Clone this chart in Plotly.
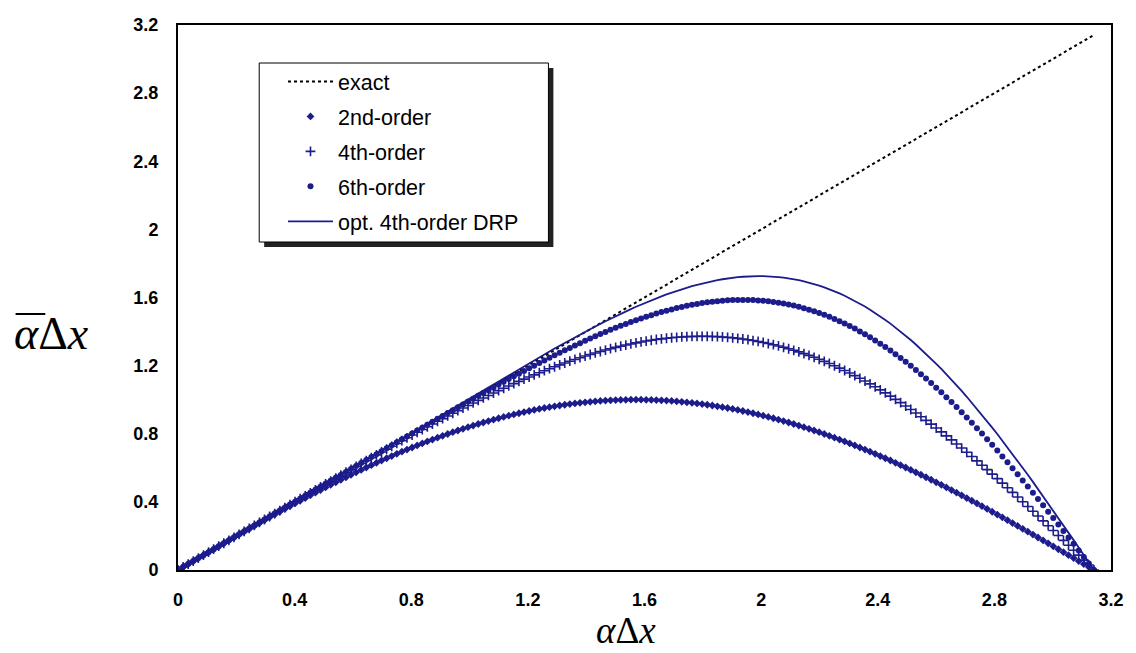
import plotly.graph_objects as go

# alpha*dx sample positions (radians), 1-degree steps
alpha_dx = [0, 0.0175, 0.0349, 0.0524, 0.0698, 0.0873, 0.1047, 0.1222, 0.1396, 0.1571,
            0.1745, 0.1920, 0.2094, 0.2269, 0.2443, 0.2618, 0.2793, 0.2967, 0.3142, 0.3316,
            0.3491, 0.3665, 0.3840, 0.4014, 0.4189, 0.4363, 0.4538, 0.4712, 0.4887, 0.5061,
            0.5236, 0.5411, 0.5585, 0.5760, 0.5934, 0.6109, 0.6283, 0.6458, 0.6632, 0.6807,
            0.6981, 0.7156, 0.7330, 0.7505, 0.7679, 0.7854, 0.8029, 0.8203, 0.8378, 0.8552,
            0.8727, 0.8901, 0.9076, 0.9250, 0.9425, 0.9599, 0.9774, 0.9948, 1.0123, 1.0297,
            1.0472, 1.0647, 1.0821, 1.0996, 1.1170, 1.1345, 1.1519, 1.1694, 1.1868, 1.2043,
            1.2217, 1.2392, 1.2566, 1.2741, 1.2915, 1.3090, 1.3265, 1.3439, 1.3614, 1.3788,
            1.3963, 1.4137, 1.4312, 1.4486, 1.4661, 1.4835, 1.5010, 1.5184, 1.5359, 1.5533,
            1.5708, 1.5882, 1.6057, 1.6232, 1.6406, 1.6581, 1.6755, 1.6930, 1.7104, 1.7279,
            1.7453, 1.7628, 1.7802, 1.7977, 1.8151, 1.8326, 1.8500, 1.8675, 1.8850, 1.9024,
            1.9199, 1.9373, 1.9548, 1.9722, 1.9897, 2.0071, 2.0246, 2.0420, 2.0595, 2.0769,
            2.0944, 2.1118, 2.1293, 2.1468, 2.1642, 2.1817, 2.1991, 2.2166, 2.2340, 2.2515,
            2.2689, 2.2864, 2.3038, 2.3213, 2.3387, 2.3562, 2.3736, 2.3911, 2.4086, 2.4260,
            2.4435, 2.4609, 2.4784, 2.4958, 2.5133, 2.5307, 2.5482, 2.5656, 2.5831, 2.6005,
            2.6180, 2.6354, 2.6529, 2.6704, 2.6878, 2.7053, 2.7227, 2.7402, 2.7576, 2.7751,
            2.7925, 2.8100, 2.8274, 2.8449, 2.8623, 2.8798, 2.8972, 2.9147, 2.9322, 2.9496,
            2.9671, 2.9845, 3.0020, 3.0194, 3.0369, 3.0543, 3.0718, 3.0892, 3.1067, 3.1241,
            3.1416]

exact_x = [0, 3.1416]
exact_y = [0, 3.1416]

order2 = [0, 0.0175, 0.0349, 0.0523, 0.0698, 0.0872, 0.1045, 0.1219, 0.1392, 0.1564,
          0.1736, 0.1908, 0.2079, 0.2250, 0.2419, 0.2588, 0.2756, 0.2924, 0.3090, 0.3256,
          0.3420, 0.3584, 0.3746, 0.3907, 0.4067, 0.4226, 0.4384, 0.4540, 0.4695, 0.4848,
          0.5000, 0.5150, 0.5299, 0.5446, 0.5592, 0.5736, 0.5878, 0.6018, 0.6157, 0.6293,
          0.6428, 0.6561, 0.6691, 0.6820, 0.6947, 0.7071, 0.7193, 0.7314, 0.7431, 0.7547,
          0.7660, 0.7771, 0.7880, 0.7986, 0.8090, 0.8192, 0.8290, 0.8387, 0.8480, 0.8572,
          0.8660, 0.8746, 0.8829, 0.8910, 0.8988, 0.9063, 0.9135, 0.9205, 0.9272, 0.9336,
          0.9397, 0.9455, 0.9511, 0.9563, 0.9613, 0.9659, 0.9703, 0.9744, 0.9781, 0.9816,
          0.9848, 0.9877, 0.9903, 0.9925, 0.9945, 0.9962, 0.9976, 0.9986, 0.9994, 0.9998,
          1.0000, 0.9998, 0.9994, 0.9986, 0.9976, 0.9962, 0.9945, 0.9925, 0.9903, 0.9877,
          0.9848, 0.9816, 0.9781, 0.9744, 0.9703, 0.9659, 0.9613, 0.9563, 0.9511, 0.9455,
          0.9397, 0.9336, 0.9272, 0.9205, 0.9135, 0.9063, 0.8988, 0.8910, 0.8829, 0.8746,
          0.8660, 0.8572, 0.8480, 0.8387, 0.8290, 0.8192, 0.8090, 0.7986, 0.7880, 0.7771,
          0.7660, 0.7547, 0.7431, 0.7314, 0.7193, 0.7071, 0.6947, 0.6820, 0.6691, 0.6561,
          0.6428, 0.6293, 0.6157, 0.6018, 0.5878, 0.5736, 0.5592, 0.5446, 0.5299, 0.5150,
          0.5000, 0.4848, 0.4695, 0.4540, 0.4384, 0.4226, 0.4067, 0.3907, 0.3746, 0.3584,
          0.3420, 0.3256, 0.3090, 0.2924, 0.2756, 0.2588, 0.2419, 0.2250, 0.2079, 0.1908,
          0.1736, 0.1564, 0.1392, 0.1219, 0.1045, 0.0872, 0.0698, 0.0523, 0.0349, 0.0175,
          0]

order4 = [0, 0.0175, 0.0349, 0.0524, 0.0698, 0.0873, 0.1047, 0.1222, 0.1396, 0.1571,
          0.1745, 0.1920, 0.2094, 0.2269, 0.2443, 0.2618, 0.2792, 0.2966, 0.3141, 0.3315,
          0.3489, 0.3663, 0.3837, 0.4010, 0.4185, 0.4358, 0.4532, 0.4705, 0.4878, 0.5051,
          0.5223, 0.5395, 0.5567, 0.5739, 0.5911, 0.6082, 0.6252, 0.6422, 0.6592, 0.6761,
          0.6929, 0.7098, 0.7264, 0.7431, 0.7597, 0.7761, 0.7925, 0.8089, 0.8251, 0.8412,
          0.8572, 0.8731, 0.8889, 0.9046, 0.9202, 0.9357, 0.9508, 0.9660, 0.9809, 0.9958,
          1.0103, 1.0248, 1.0390, 1.0532, 1.0671, 1.0807, 1.0942, 1.1075, 1.1205, 1.1333,
          1.1458, 1.1581, 1.1702, 1.1819, 1.1934, 1.2045, 1.2155, 1.2261, 1.2364, 1.2464,
          1.2561, 1.2654, 1.2745, 1.2830, 1.2914, 1.2993, 1.3069, 1.3141, 1.3209, 1.3273,
          1.3333, 1.3389, 1.3442, 1.3489, 1.3533, 1.3572, 1.3607, 1.3637, 1.3663, 1.3684,
          1.3701, 1.3712, 1.3719, 1.3723, 1.3720, 1.3712, 1.3701, 1.3683, 1.3661, 1.3633,
          1.3601, 1.3563, 1.3521, 1.3472, 1.3419, 1.3361, 1.3297, 1.3228, 1.3154, 1.3075,
          1.2990, 1.2901, 1.2805, 1.2705, 1.2599, 1.2489, 1.2372, 1.2250, 1.2124, 1.1992,
          1.1855, 1.1713, 1.1566, 1.1415, 1.1256, 1.1095, 1.0928, 1.0756, 1.0579, 1.0399,
          1.0212, 1.0021, 0.9827, 0.9626, 0.9423, 0.9214, 0.9001, 0.8784, 0.8563, 0.8338,
          0.8110, 0.7877, 0.7642, 0.7402, 0.7159, 0.6911, 0.6661, 0.6408, 0.6153, 0.5894,
          0.5631, 0.5368, 0.5100, 0.4831, 0.4558, 0.4284, 0.4008, 0.3731, 0.3450, 0.3168,
          0.2885, 0.2600, 0.2315, 0.2029, 0.1740, 0.1452, 0.1163, 0.0872, 0.0582, 0.0292,
          0]

order6 = [0, 0.0175, 0.0349, 0.0524, 0.0698, 0.0873, 0.1047, 0.1222, 0.1396, 0.1571,
          0.1745, 0.1920, 0.2094, 0.2269, 0.2443, 0.2618, 0.2793, 0.2967, 0.3142, 0.3316,
          0.3491, 0.3665, 0.3840, 0.4014, 0.4189, 0.4363, 0.4538, 0.4712, 0.4887, 0.5060,
          0.5235, 0.5410, 0.5584, 0.5758, 0.5932, 0.6107, 0.6280, 0.6454, 0.6629, 0.6802,
          0.6976, 0.7150, 0.7323, 0.7496, 0.7670, 0.7842, 0.8014, 0.8188, 0.8359, 0.8531,
          0.8702, 0.8874, 0.9045, 0.9215, 0.9385, 0.9555, 0.9723, 0.9892, 1.0058, 1.0227,
          1.0392, 1.0558, 1.0722, 1.0886, 1.1049, 1.1210, 1.1370, 1.1530, 1.1688, 1.1845,
          1.2000, 1.2154, 1.2307, 1.2457, 1.2607, 1.2753, 1.2898, 1.3042, 1.3182, 1.3321,
          1.3457, 1.3592, 1.3723, 1.3851, 1.3977, 1.4100, 1.4220, 1.4336, 1.4450, 1.4559,
          1.4667, 1.4769, 1.4869, 1.4963, 1.5056, 1.5142, 1.5224, 1.5302, 1.5377, 1.5446,
          1.5509, 1.5568, 1.5622, 1.5672, 1.5715, 1.5753, 1.5786, 1.5812, 1.5834, 1.5848,
          1.5857, 1.5860, 1.5857, 1.5846, 1.5829, 1.5806, 1.5777, 1.5740, 1.5696, 1.5646,
          1.5588, 1.5524, 1.5451, 1.5373, 1.5286, 1.5193, 1.5091, 1.4982, 1.4867, 1.4742,
          1.4611, 1.4473, 1.4326, 1.4174, 1.4011, 1.3842, 1.3666, 1.3482, 1.3290, 1.3092,
          1.2885, 1.2671, 1.2451, 1.2222, 1.1987, 1.1745, 1.1496, 1.1239, 1.0976, 1.0707,
          1.0431, 1.0149, 0.9861, 0.9566, 0.9266, 0.8959, 0.8647, 0.8330, 0.8008, 0.7680,
          0.7347, 0.7011, 0.6668, 0.6323, 0.5971, 0.5618, 0.5260, 0.4900, 0.4535, 0.4167,
          0.3797, 0.3424, 0.3050, 0.2674, 0.2294, 0.1915, 0.1534, 0.1150, 0.0768, 0.0385,
          0]

drp4 = [0, 0.0175, 0.0349, 0.0524, 0.0698, 0.0873, 0.1047, 0.1222, 0.1396, 0.1571,
        0.1745, 0.1920, 0.2094, 0.2269, 0.2443, 0.2618, 0.2793, 0.2967, 0.3143, 0.3317,
        0.3492, 0.3666, 0.3842, 0.4016, 0.4191, 0.4366, 0.4542, 0.4717, 0.4892, 0.5067,
        0.5243, 0.5417, 0.5593, 0.5769, 0.5945, 0.6122, 0.6298, 0.6474, 0.6651, 0.6827,
        0.7004, 0.7181, 0.7358, 0.7535, 0.7713, 0.7890, 0.8067, 0.8246, 0.8423, 0.8602,
        0.8779, 0.8958, 0.9136, 0.9314, 0.9493, 0.9673, 0.9850, 1.0029, 1.0206, 1.0386,
        1.0563, 1.0741, 1.0918, 1.1095, 1.1272, 1.1448, 1.1624, 1.1800, 1.1974, 1.2148,
        1.2321, 1.2493, 1.2665, 1.2835, 1.3004, 1.3171, 1.3338, 1.3503, 1.3666, 1.3827,
        1.3988, 1.4146, 1.4302, 1.4454, 1.4605, 1.4755, 1.4901, 1.5043, 1.5184, 1.5320,
        1.5455, 1.5585, 1.5713, 1.5835, 1.5956, 1.6070, 1.6181, 1.6287, 1.6390, 1.6487,
        1.6579, 1.6666, 1.6747, 1.6825, 1.6895, 1.6959, 1.7019, 1.7071, 1.7119, 1.7158,
        1.7191, 1.7218, 1.7238, 1.7249, 1.7254, 1.7252, 1.7242, 1.7225, 1.7199, 1.7166,
        1.7124, 1.7075, 1.7016, 1.6951, 1.6875, 1.6792, 1.6699, 1.6598, 1.6488, 1.6368,
        1.6241, 1.6105, 1.5958, 1.5805, 1.5639, 1.5467, 1.5285, 1.5093, 1.4892, 1.4684,
        1.4465, 1.4238, 1.4003, 1.3757, 1.3504, 1.3241, 1.2970, 1.2690, 1.2403, 1.2107,
        1.1804, 1.1492, 1.1173, 1.0846, 1.0512, 1.0170, 0.9821, 0.9466, 0.9104, 0.8736,
        0.8361, 0.7982, 0.7595, 0.7205, 0.6807, 0.6406, 0.6000, 0.5591, 0.5176, 0.4758,
        0.4336, 0.3912, 0.3485, 0.3055, 0.2622, 0.2189, 0.1753, 0.1315, 0.0878, 0.0440,
        0]

tick_vals = [0, 0.4, 0.8, 1.2, 1.6, 2.0, 2.4, 2.8, 3.2]
tick_text = ["0", "0.4", "0.8", "1.2", "1.6", "2", "2.4", "2.8", "3.2"]

NAVY = "#1c1c8c"
fig = go.Figure()
fig.add_trace(go.Scatter(x=exact_x, y=exact_y, mode="lines", name="exact",
                         line=dict(color="black", width=2, dash="dot"), legendgroup="a"))
fig.add_trace(go.Scatter(x=alpha_dx, y=order2, mode="markers", name="2nd-order",
                         marker=dict(symbol="diamond", size=6, color=NAVY), legendgroup="b"))
fig.add_trace(go.Scatter(x=alpha_dx, y=order4, mode="markers", name="4th-order",
                         marker=dict(symbol="cross-thin", size=7, color=NAVY,
                                     line=dict(color=NAVY, width=1.6)), legendgroup="c"))
fig.add_trace(go.Scatter(x=alpha_dx, y=order6, mode="markers", name="6th-order",
                         marker=dict(symbol="circle", size=6, color=NAVY), legendgroup="d"))
fig.add_trace(go.Scatter(x=alpha_dx, y=drp4, mode="lines", name="opt. 4th-order DRP",
                         line=dict(color=NAVY, width=1.8), legendgroup="e"))

W, H = 1136, 653
L, R, T, B = 178, 16, 25, 83
pw, ph = W - L - R, H - T - B

def px(xp):
    return (xp - L) / pw

def py(yp):
    return (H - B - yp) / ph

# legend box + drop shadow
fig.add_shape(type="rect", xref="paper", yref="paper",
              x0=px(265), x1=px(557), y0=py(247), y1=py(68),
              fillcolor="#222222", line=dict(width=0), layer="above")
fig.add_shape(type="rect", xref="paper", yref="paper",
              x0=px(260), x1=px(552), y0=py(242), y1=py(63),
              fillcolor="white", line=dict(color="black", width=1), layer="above")

fig.add_annotation(text="<i>α</i>Δ<i>x</i>", xref="paper", yref="paper",
                   x=px(630), y=py(630), xanchor="center", yanchor="middle", showarrow=False,
                   font=dict(family="Liberation Serif", size=37, color="black"))
fig.add_annotation(text="<i>α</i>Δ<i>x</i>", xref="paper", yref="paper",
                   x=px(50), y=py(333), xanchor="center", yanchor="middle", showarrow=False,
                   font=dict(family="Liberation Serif", size=46, color="black"))
# bar over alpha in the y-axis title
fig.add_shape(type="line", xref="paper", yref="paper",
              x0=px(14), x1=px(44), y0=py(314), y1=py(314),
              line=dict(color="black", width=2))

axis_common = dict(showline=True, mirror=True, linecolor="black", linewidth=2,
                   showgrid=False, zeroline=False, ticks="",
                   tickfont=dict(family="Liberation Sans", size=18, color="black", weight="bold"),
                   tickvals=tick_vals, ticktext=tick_text, range=[0, 3.2])
fig.update_xaxes(**axis_common, ticklabelstandoff=12)
fig.update_yaxes(**axis_common, ticklabelstandoff=14)

fig.update_layout(
    width=W, height=H,
    margin=dict(l=L, r=R, t=T, b=B),
    paper_bgcolor="white", plot_bgcolor="white",
    showlegend=True,
    legend=dict(x=px(284), y=py(61), xanchor="left", yanchor="top",
                bgcolor="rgba(0,0,0,0)", borderwidth=0,
                font=dict(family="Liberation Sans", size=21.5, color="black"),
                traceorder="grouped", tracegroupgap=4, itemwidth=45),
)

fig.write_html("out.html")
